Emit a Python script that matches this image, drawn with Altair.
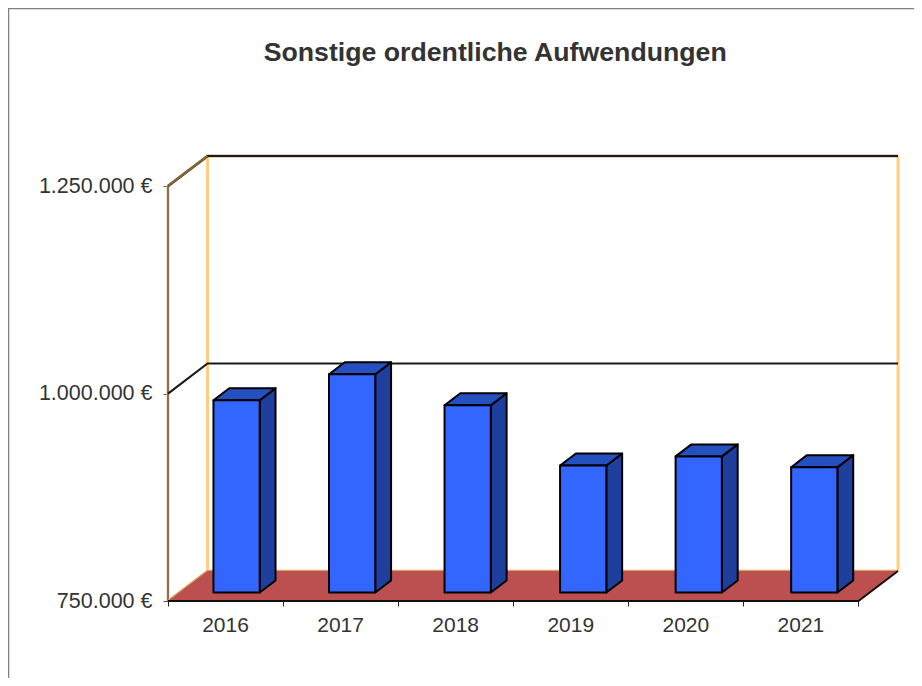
import altair as alt
import pandas as pd

title = "Sonstige ordentliche Aufwendungen"
years = ["2016", "2017", "2018", "2019", "2020", "2021"]
values = [981700, 1013000, 975600, 903000, 914000, 901000]
y_ticks = [750000, 1000000, 1250000]
x_ticks = [0, 1, 2, 3, 4, 5, 6]

BASE = 750000
TOP = 1250000
DX = 0.3435      # 3D depth in category units
DV = 36190       # 3D depth in euros
BAR_X = 0.395
BAR_W = 0.402
BAR_STEP = 1.004
F1 = 0.283       # bar front plane, share of depth
F2 = 0.40        # bar depth, share of depth
N = len(years)
FONT = "Liberation Sans"
TXT = "#333333"

x_scale = alt.Scale(domain=[0, N + DX], nice=False, zero=False)
y_scale = alt.Scale(domain=[BASE, TOP + DV], nice=False, zero=False)
X = alt.X("x:Q", scale=x_scale, axis=alt.Axis(values=x_ticks, labels=False, domain=False, grid=False,
                                             ticks=True, tickColor="#222222", tickSize=5, title=None))
Y = alt.Y("y:Q", scale=y_scale, axis=alt.Axis(values=y_ticks, domain=False, grid=False, title=None, tickSize=5,
                                             tickColor="#555555", labelPadding=11, labelFontSize=21.5,
                                             labelFont=FONT, labelColor=TXT,
                                             labelExpr="replace(format(datum.value, ','), /,/g, '.') + ' €'"))

# back wall grid lines
grid_rows = []
for v in y_ticks[1:]:
    grid_rows += [
        {"id": v, "x": 0, "y": v},
        {"id": v, "x": DX, "y": v + DV},
        {"id": v, "x": N + DX, "y": v + DV},
    ]
grid = pd.DataFrame(grid_rows)
top_grid = grid[grid["id"] == TOP]
top_diag = top_grid.iloc[:2]

walls = pd.DataFrame({"x": [DX, N + DX], "y": [BASE + DV] * 2, "y2": [TOP + DV] * 2})
left_axis = pd.DataFrame({"x": [0], "y": [BASE], "y2": [TOP]})

floor = pd.DataFrame({
    "x": [0, DX, N, N + DX],
    "y": [BASE, BASE + DV, BASE + DV, BASE + DV],
    "y2": [BASE, BASE, BASE, BASE + DV],
})
floor_edge = pd.DataFrame({"x": [0, N, N + DX], "y": [BASE, BASE, BASE + DV]})
floor_back = pd.DataFrame({"x": [0, DX, N + DX], "y": [BASE, BASE + DV, BASE + DV]})

front, side, top = [], [], []
for i, (yr, v) in enumerate(zip(years, values)):
    x0 = i * BAR_STEP + BAR_X
    x1 = x0 + BAR_W
    b = BASE + F1 * DV
    t = v + F1 * DV
    ddx = F2 * DX
    ddv = F2 * DV
    front += [{"id": yr, "x": x0, "y": t, "y2": b}, {"id": yr, "x": x1, "y": t, "y2": b}]
    side += [{"id": yr, "x": x1, "y": t, "y2": b}, {"id": yr, "x": x1 + ddx, "y": t + ddv, "y2": b + ddv}]
    top += [
        {"id": yr, "x": x0, "y": t, "y2": t},
        {"id": yr, "x": x0 + ddx, "y": t + ddv, "y2": t},
        {"id": yr, "x": x1, "y": t + ddv, "y2": t},
        {"id": yr, "x": x1 + ddx, "y": t + ddv, "y2": t + ddv},
    ]
front, side, top = pd.DataFrame(front), pd.DataFrame(side), pd.DataFrame(top)

labels = pd.DataFrame({"x": [i + 0.5 for i in range(N)], "label": years})
title_df = pd.DataFrame({"x": [(495 - 168) / 115], "label": [title]})

axes_layer = alt.Chart(left_axis).mark_rule(color="#FFCC80", strokeWidth=3).encode(x=X, y=Y, y2="y2:Q")
left_dark = alt.Chart(left_axis).mark_rule(color="#555555", strokeWidth=1.5).encode(x=X, y=Y, y2="y2:Q")
wall_lines = alt.Chart(walls).mark_rule(color="#FFCF80", strokeWidth=3).encode(x=X, y=Y, y2="y2:Q")
top_halo = alt.Chart(top_grid).mark_line(color="#C9A77A", strokeWidth=3).encode(x=X, y=Y)
grid_lines = alt.Chart(grid).mark_line(color="#1A1A1A", strokeWidth=2.2).encode(x=X, y=Y, detail="id:N")
top_diag_line = alt.Chart(top_diag).mark_line(color="#8A6A3A", strokeWidth=2).encode(x=X, y=Y)
floor_line_back = alt.Chart(floor_back).mark_line(color="#D9A860", strokeWidth=2.5).encode(x=X, y=Y)
floor_area = alt.Chart(floor).mark_area(color="#BC5050", opacity=1).encode(x=X, y=Y, y2="y2:Q")
floor_line = alt.Chart(floor_edge).mark_line(color="#111111", strokeWidth=2).encode(x=X, y=Y)


def face(df, colour):
    return alt.Chart(df).mark_area(color=colour, opacity=1, stroke="#000000", strokeWidth=2, strokeJoin="round").encode(
        x=X, y=Y, y2="y2:Q", detail="id:N")


text = alt.Chart(labels).mark_text(font=FONT, fontSize=21, color=TXT, baseline="middle").encode(
    x=X, y=alt.value(470), text="label:N")
title_mark = alt.Chart(title_df).mark_text(font=FONT, fontSize=26.7, fontWeight="bold", color=TXT, baseline="middle").encode(
    x=X, y=alt.value(-103), text="label:N")

border_left = alt.Chart(pd.DataFrame({"k": [0]})).mark_rule(color="#808080", strokeWidth=1.5).encode(
    x=alt.value(-159.5), y=alt.value(-148), y2=alt.value(522))
border_top = alt.Chart(pd.DataFrame({"k": [0]})).mark_rule(color="#808080", strokeWidth=1.5).encode(
    y=alt.value(-147.5), x=alt.value(-160), x2=alt.value(746))

chart = alt.layer(
    border_left, border_top,
    axes_layer, left_dark, wall_lines, top_halo, grid_lines, top_diag_line,
    floor_line_back, floor_area, floor_line,
    face(side, "#1F3F9F"), face(top, "#2450C0"), face(front, "#3366FF"),
    text, title_mark,
).properties(
    width=730, height=445,
    padding={"left": 160, "top": 148, "right": 16, "bottom": 77},
    autosize=alt.AutoSizeParams(type="none"),
).configure_view(stroke=None)

chart.save("out.html", embed_options={"renderer": "svg", "actions": False})
